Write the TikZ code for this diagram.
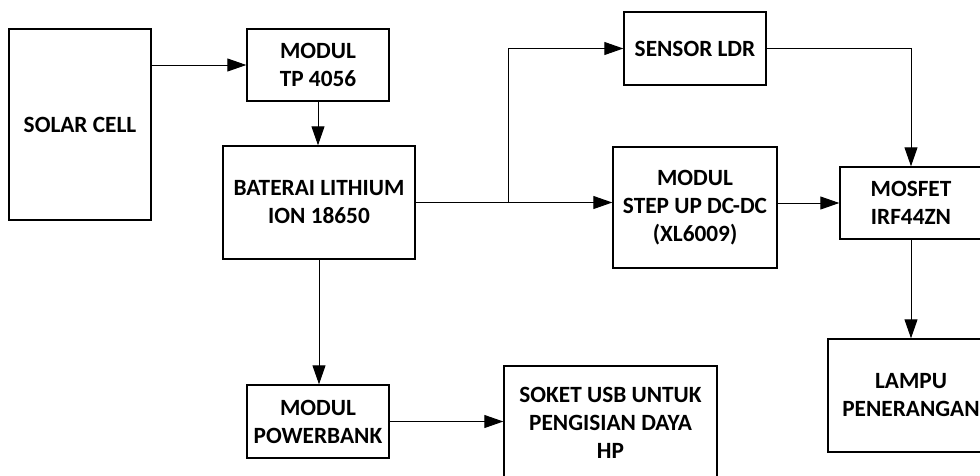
\documentclass[tikz,border=0pt]{standalone}
\usepackage{fontspec}
\setmainfont{Carlito}
\usetikzlibrary{arrows.meta}
\begin{document}
\begin{tikzpicture}[x=1pt,y=-1pt,
  blok/.style={draw=black,line width=1.4pt,rectangle,align=center,inner sep=0pt,
    font=\fontsize{23.3}{28}\selectfont\bfseries},
  arr/.style={line width=1pt,-{Triangle[length=19pt,width=13pt]}},
  ln/.style={line width=1pt}]
\useasboundingbox (0,0) rectangle (980,475);
\node[blok,minimum width=142pt,minimum height=191pt] (solar) at (80,124.5) {SOLAR CELL};
\node[blok,minimum width=142pt,minimum height=72pt] (tp) at (318,65) {MODUL\\TP 4056};
\node[blok,minimum width=192pt,minimum height=113pt] (bat) at (319,202.5) {BATERAI LITHIUM\\ION 18650};
\node[blok,minimum width=142pt,minimum height=73pt] (sensor) at (695,48.5) {SENSOR LDR};
\node[blok,minimum width=164pt,minimum height=121pt] (step) at (695,207.5) {MODUL\\STEP UP DC-DC\\(XL6009)};
\node[blok,minimum width=142pt,minimum height=72pt] (mosfet) at (911,203) {MOSFET\\IRF44ZN};
\node[blok,minimum width=166pt,minimum height=113pt] (lampu) at (911,395.5) {LAMPU\\PENERANGAN};
\node[blok,minimum width=142pt,minimum height=73pt] (pb) at (318,421.5) {MODUL\\POWERBANK};
\node[blok,minimum width=213pt,minimum height=114pt] (soket) at (610.5,423) {SOKET USB UNTUK\\PENGISIAN DAYA\\HP};
\coordinate (j) at (508,203);
\draw[arr] (solar.east |- tp.west) -- (tp.west);
\draw[arr] (tp.south) -- (tp.south |- bat.north);
\draw[arr] (bat.east) -- (bat.east -| step.west);
\draw[arr] (j) |- (sensor.west);
\draw[arr] (step.east |- mosfet.west) -- (mosfet.west);
\draw[arr] (sensor.east) -| (mosfet.north);
\draw[arr] (mosfet.south) -- (lampu.north);
\draw[arr] (bat.south) -- (bat.south |- pb.north);
\draw[arr] (pb.east) -- (pb.east -| soket.west);
\end{tikzpicture}
\end{document}
